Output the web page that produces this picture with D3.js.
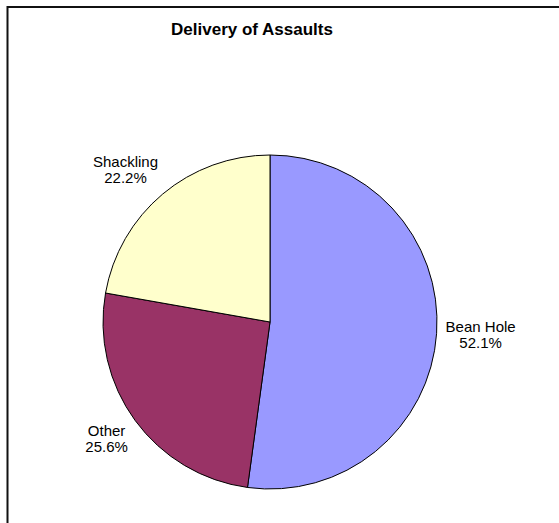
<!DOCTYPE html>
<html>
<head>
<meta charset="utf-8">
<script src="https://d3js.org/d3.v7.min.js"></script>
<style>
  body { margin: 0; background: #fff; }
  svg { display: block; font-family: "Liberation Sans", Arial, sans-serif; }
</style>
</head>
<body>
<svg width="559" height="523"></svg>
<script>
var categories = ["Bean Hole", "Other", "Shackling"];
var percents = [52.1, 25.6, 22.2];
var colors = ["#9999ff", "#993366", "#ffffcc"];

var svg = d3.select("svg"),
    cx = 270, cy = 322, radius = 167,
    labelR = 176, fs = 15, lh = 16;

// frame (only top and left edges show inside the window)
svg.append("rect")
    .attr("x", 7.5).attr("y", 7)
    .attr("width", 600).attr("height", 600)
    .attr("fill", "none")
    .attr("stroke", "#111")
    .attr("stroke-width", 2);

svg.append("text")
    .attr("x", 252)
    .attr("y", 35)
    .attr("text-anchor", "middle")
    .style("font-size", "17px")
    .style("font-weight", "bold")
    .text("Delivery of Assaults");

var data = categories.map(function (c, i) { return {name: c, value: percents[i], color: colors[i]}; });

var pie = d3.pie().sort(null).value(function (d) { return d.value; });
var arc = d3.arc().innerRadius(0).outerRadius(radius);

var g = svg.append("g").attr("transform", "translate(" + cx + "," + cy + ")");
var arcs = pie(data);

g.selectAll("path")
    .data(arcs)
  .enter().append("path")
    .attr("d", arc)
    .attr("fill", function (d) { return d.data.color; })
    .attr("stroke", "#000")
    .attr("stroke-width", 1);

// labels: box pushed outwards from the slice's mid angle
var clamp = function (v) { return Math.max(-1, Math.min(1, v)); };
arcs.forEach(function (d) {
    var a = (d.startAngle + d.endAngle) / 2,
        ux = Math.sin(a), uy = -Math.cos(a);
    var t = g.append("text")
        .attr("text-anchor", "middle")
        .style("font-size", fs + "px");
    t.append("tspan").attr("x", 0).attr("y", 0).text(d.data.name);
    t.append("tspan").attr("x", 0).attr("y", lh).text(d.data.value.toFixed(1) + "%");
    var bb = t.node().getBBox(),
        hw = bb.width / 2, hh = bb.height / 2;
    var px = labelR * ux + hw * clamp(ux * 1.5),
        py = labelR * uy + hh * clamp(uy * 1.5);
    t.attr("transform", "translate(" + px + "," + (py - 4) + ")");
});
</script>
</body>
</html>
